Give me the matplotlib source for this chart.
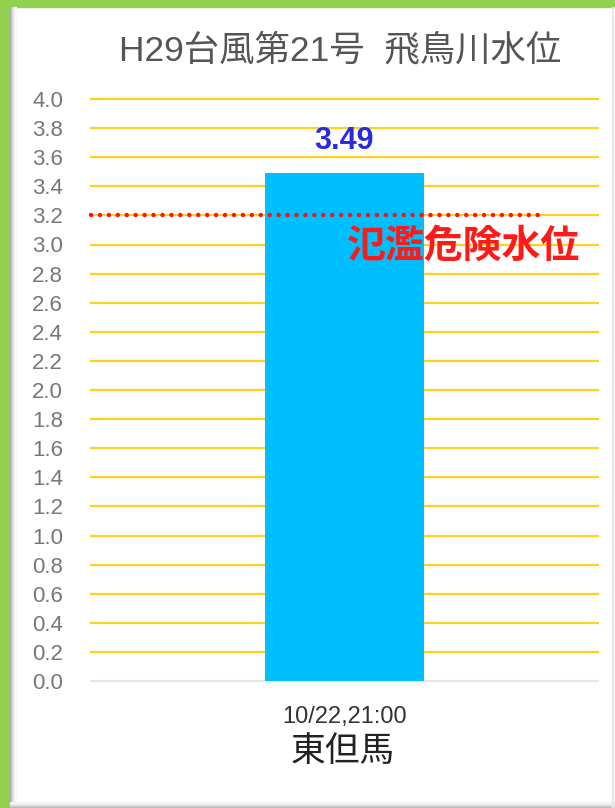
import matplotlib
matplotlib.use("Agg")
import matplotlib.pyplot as plt
from matplotlib.patches import Rectangle
import numpy as np

plt.rcParams['font.family'] = ['Liberation Sans', 'Noto Sans CJK JP', 'DejaVu Sans']

title = "H29台風第21号  飛鳥川水位"
categories = ["10/22,21:00"]
station = "東但馬"
values = [3.49]
danger_level = 3.2
danger_label = "氾濫危険水位"
yticks = [round(0.2 * i, 1) for i in range(21)]

W, H = 615, 808
fig = plt.figure(figsize=(W / 100, H / 100), dpi=100)
fig.patch.set_facecolor("white")

# frame decorations
green = "#92D050"
fig.patches.append(Rectangle((0, (H - 7) / H), 1, 7 / H, transform=fig.transFigure, color=green, zorder=0))
fig.patches.append(Rectangle((0, 0), 10 / W, 1, transform=fig.transFigure, color=green, zorder=0))
for i, c in enumerate(["#a8a8a8", "#c0c0c0", "#d4d4d4", "#e4e4e4", "#f0f0f0", "#f8f8f8"]):
    fig.patches.append(Rectangle(((10 + i) / W, 0), 1 / W, (H - 7) / H, transform=fig.transFigure, color=c, zorder=0))
for i, c in enumerate(["#a0a0a0", "#b8b8b8", "#cccccc", "#dddddd", "#ebebeb", "#f5f5f5"]):
    fig.patches.append(Rectangle((10 / W, i / H), 1 - 10 / W, 1 / H, transform=fig.transFigure, color=c, zorder=0))
fig.patches.append(Rectangle(((W - 3) / W, 0), 1 / W, (H - 7) / H, transform=fig.transFigure, color="#e8e8e8", zorder=0))

ax = fig.add_axes([91 / W, 127 / H, 507 / W, 582 / H])
ax.set_facecolor("none")
x = np.arange(len(categories))
ax.set_xlim(-0.5, 0.5)
ax.set_ylim(0, 4.0)

for t in yticks:
    ax.axhline(t, color="#FFD21F" if t > 0 else "#e6e6e6", lw=1.6, zorder=1, clip_on=False)

bars = ax.bar(x, values, width=0.313, color="#00BFFF", zorder=2)
for xi, v in zip(x, values):
    ax.text(xi, v + 0.12, f"{v:.2f}", ha="center", va="bottom", color="#2b2bdd",
            fontsize=22, fontweight="bold", zorder=4)

ax.plot([-0.5, 0.385], [danger_level, danger_level], color="#ff1010", lw=3.2,
        ls=(0, (0.01, 2.0)), dash_capstyle="round", zorder=3, clip_on=False)
ax.text(0.465, 2.98, danger_label, ha="right", va="center", color="#ff1a1a",
        fontsize=28, fontweight="bold", zorder=4)

ax.set_yticks(yticks)
ax.set_yticklabels([f"{t:.1f}" for t in yticks], color="#777777", fontsize=16)
ax.set_xticks(x)
ax.set_xticklabels(categories, color="#333333", fontsize=17)
ax.tick_params(axis="y", length=0, pad=20)
ax.tick_params(axis="x", length=0, pad=18)
for s in ax.spines.values():
    s.set_visible(False)

fig.text(343 / W, 1 - 752 / H, station, ha="center", va="center", fontsize=25, color="#222222")
fig.text(340 / W, 1 - 50 / H, title, ha="center", va="center", fontsize=25.5, color="#555555")

fig.savefig("out.png", dpi=100, facecolor=fig.get_facecolor())
